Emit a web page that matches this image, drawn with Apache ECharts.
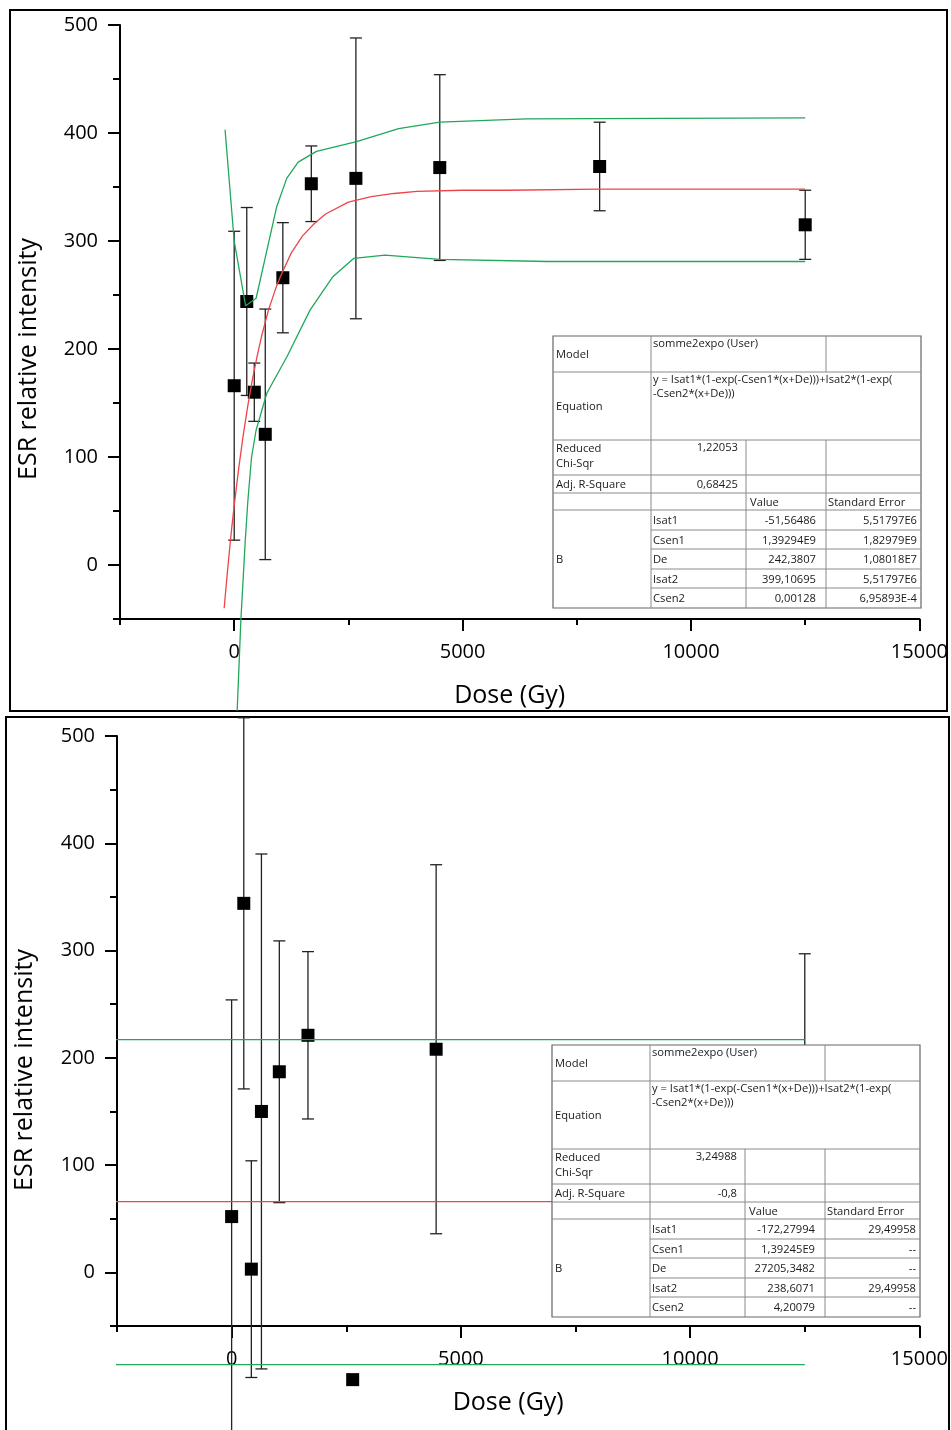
<!DOCTYPE html>
<html>
<head>
<meta charset="utf-8">
<script src="https://cdn.jsdelivr.net/npm/echarts@6/dist/echarts.min.js"></script>
<style>
html,body{margin:0;padding:0;background:#fff;}
#chart{width:951px;height:1430px;}
</style>
</head>
<body>
<div id="chart"></div>
<script>
// ---------- DATA ----------
// Top panel: measured points
const topDose = [0, 275, 440, 680, 1065, 1688, 2664, 4500, 8000, 12500];
const topInt  = [166, 244, 160, 121, 266, 353, 358, 368, 369, 315];
const topErr  = [143, 87, 27, 116, 51, 35, 130, 86, 41, 32];
// Top panel: fit curve (red) and confidence band (green)
const topFitX = [-220,-150,-100,-50,0,100,200,300,400,500,600,750,900,1000,1250,1500,1750,2000,2500,3000,3500,4000,5000,6000,8000,10000,12500];
const topFitY = [-40,-7,15,36,55,90,121,148,172,193,212,236,255,266,289,305,316,325,336,341,344,346,347,347,348,348,348];
const topUpperX = [-200,0,250,480,714,932,1150,1400,1800,2680,3600,4500,6400,12500];
const topUpperY = [403,300,240,247,291,332,358,373,383,392,404,410,413,414];
const topLowerX = [65,146,240,300,380,480,714,1157,1660,2160,2620,3300,4500,6860,12500];
const topLowerY = [-135,-51,21,60,100,125,159,193,236,267,284,287,283,281,281];

// Bottom panel: measured points
const botDose = [0, 265, 430, 650, 1040, 1665, 2640, 4460, 12500];
const botInt  = [52, 344, 3, 150, 187, 221, -100, 208, 200];
const botErr  = [202, 173, 101, 240, 122, 78, 0, 172, 97];
// Bottom panel: fit line and confidence band
const botFitX   = [-2720, 12500];
const botFitY   = [66, 66];
const botUpperY = [217, 217];
const botLowerY = [-86, -86];

// Axis ticks
const xMajor = [0, 5000, 10000, 15000];
const xMinor = [-2500, 2500, 7500, 12500];
const yMajor = [0, 100, 200, 300, 400, 500];
const yMinor = [-50, 50, 150, 250, 350, 450];

// Table texts
const tableRowLabels = ['Model', 'Equation', 'Reduced\nChi-Sqr', 'Adj. R-Square', 'B'];
const modelName = 'somme2expo (User)';
const equationText = 'y = Isat1*(1-exp(-Csen1*(x+De)))+Isat2*(1-exp(\n-Csen2*(x+De)))';
const tableHeader = ['Value', 'Standard Error'];
const paramNames = ['Isat1', 'Csen1', 'De', 'Isat2', 'Csen2'];
const topChiSqr = '1,22053';
const topAdjR2 = '0,68425';
const topParamValues = ['-51,56486', '1,39294E9', '242,3807', '399,10695', '0,00128'];
const topParamErrors = ['5,51797E6', '1,82979E9', '1,08018E7', '5,51797E6', '6,95893E-4'];
const botChiSqr = '3,24988';
const botAdjR2 = '-0,8';
const botParamValues = ['-172,27994', '1,39245E9', '27205,3482', '238,6071', '4,20079'];
const botParamErrors = ['29,49958', '--', '--', '29,49958', '--'];

// ---------- STYLE ----------
const FONT = '"Open Sans", "Noto Sans", sans-serif';
const RED = '#ee4449';
const GREEN = '#1fa85a';

function errRender(params, api) {
  const x = api.value(0), lo = api.value(1), hi = api.value(2);
  if (hi === lo) return null;
  const a = api.coord([x, hi]), b = api.coord([x, lo]);
  const w = 6;
  const st = { stroke: '#222', lineWidth: 1.3 };
  return { type: 'group', children: [
    { type: 'line', shape: { x1: a[0], y1: a[1], x2: b[0], y2: b[1] }, style: st },
    { type: 'line', shape: { x1: a[0] - w, y1: a[1], x2: a[0] + w, y2: a[1] }, style: st },
    { type: 'line', shape: { x1: b[0] - w, y1: b[1], x2: b[0] + w, y2: b[1] }, style: st }
  ]};
}

function majorX(grid, padRight) {
  return {
    type: 'value', gridIndex: grid, position: 'bottom', min: -2500, max: 15000, interval: 2500,
    name: 'Dose (Gy)', nameLocation: 'middle', nameGap: 64,
    nameTextStyle: { fontFamily: FONT, fontSize: 25, color: '#000', padding: [0, padRight, 0, 0] },
    axisLine: { show: true, onZero: false, lineStyle: { color: '#000', width: 2 } },
    axisTick: { show: true, customValues: xMajor, length: 12, lineStyle: { color: '#000', width: 2 } },
    axisLabel: { show: true, customValues: xMajor, margin: 23, fontFamily: FONT, fontSize: 20, color: '#000',
      formatter: v => String(v) },
    splitLine: { show: false }
  };
}
function minorX(grid) {
  return {
    type: 'value', gridIndex: grid, position: 'bottom', min: -2500, max: 15000, interval: 2500,
    axisLine: { show: false, onZero: false },
    axisTick: { show: true, customValues: xMinor, length: 6, lineStyle: { color: '#000', width: 2 } },
    axisLabel: { show: false }, splitLine: { show: false }
  };
}
function majorY(grid, padRight, gap) {
  return {
    type: 'value', gridIndex: grid, position: 'left', min: -50, max: 500, interval: 50,
    name: 'ESR relative intensity', nameLocation: 'middle', nameGap: gap, nameRotate: 90,
    nameTextStyle: { fontFamily: FONT, fontSize: 25, color: '#000', padding: [0, padRight, 0, 0] },
    axisLine: { show: true, onZero: false, lineStyle: { color: '#000', width: 2 } },
    axisTick: { show: true, customValues: yMajor, length: 12, lineStyle: { color: '#000', width: 2 } },
    axisLabel: { show: true, customValues: yMajor, margin: 22, fontFamily: FONT, fontSize: 20, color: '#000',
      formatter: v => String(v) },
    splitLine: { show: false }
  };
}
function minorY(grid) {
  return {
    type: 'value', gridIndex: grid, position: 'left', min: -50, max: 500, interval: 50,
    axisLine: { show: false, onZero: false },
    axisTick: { show: true, customValues: yMinor, length: 7, lineStyle: { color: '#000', width: 2 } },
    axisLabel: { show: false }, splitLine: { show: false }
  };
}

function pairs(xs, ys) { return xs.map((x, i) => [x, ys[i]]); }

function panelSeries(xi, yi, dose, inten, err, curves) {
  const s = [];
  s.push({
    type: 'custom', xAxisIndex: xi, yAxisIndex: yi, clip: false, z: 2,
    renderItem: errRender, encode: { x: 0, y: [1, 2] },
    data: dose.map((d, i) => [d, inten[i] - err[i], inten[i] + err[i]])
  });
  s.push({
    type: 'scatter', xAxisIndex: xi, yAxisIndex: yi, clip: false, z: 3,
    symbol: 'rect', symbolSize: 13, itemStyle: { color: '#000', opacity: 1 },
    data: pairs(dose, inten)
  });
  curves.forEach(c => s.push({
    type: 'line', xAxisIndex: xi, yAxisIndex: yi, clip: false, z: 4,
    showSymbol: false, symbol: 'none', smooth: false,
    lineStyle: { color: c.color, width: 1.3 }, data: c.data
  }));
  return s;
}

// ---------- TABLE ----------
const TFONT = '11.2px "Open Sans", "Noto Sans", sans-serif';
const rowOff = [0, 36, 104, 139, 157, 174, 194, 213, 233, 252, 272];
const colOff = [0, 98, 193, 273, 368];
function buildTable(x0, y0, chi, adj, vals, errs) {
  const r = rowOff.map(v => y0 + v);
  const c = colOff.map(v => x0 + v);
  const els = [];
  const Z = 100;
  els.push({ type: 'rect', z: Z, shape: { x: c[0], y: r[0], width: c[4] - c[0], height: r[10] - r[0] },
    style: { fill: '#fff', stroke: '#666', lineWidth: 1.2 } });
  const ln = (x1, y1, x2, y2) => els.push({ type: 'line', z: Z + 1, shape: { x1, y1, x2, y2 },
    style: { stroke: '#8a8a8a', lineWidth: 1 } });
  [1, 2, 3, 4, 5].forEach(i => ln(c[0], r[i], c[4], r[i]));
  [6, 7, 8, 9].forEach(i => ln(c[1], r[i], c[4], r[i]));
  ln(c[1], r[0], c[1], r[10]);
  ln(c[2], r[2], c[2], r[10]);
  ln(c[3], r[0], c[3], r[1]);
  ln(c[3], r[2], c[3], r[10]);
  const tx = (text, x, y, align, va, lh) => els.push({ type: 'text', z: Z + 2,
    style: { text, x, y, font: TFONT, fill: '#1a1a1a', align: align || 'left', verticalAlign: va || 'middle', lineHeight: lh || 14 } });
  tx(tableRowLabels[0], c[0] + 3, (r[0] + r[1]) / 2 + 1);
  tx(modelName, c[1] + 2, r[0] + 1, 'left', 'top');
  tx(tableRowLabels[1], c[0] + 3, (r[1] + r[2]) / 2 + 1);
  tx(equationText, c[1] + 2, r[1] + 1, 'left', 'top', 14);
  tx(tableRowLabels[2], c[0] + 3, r[2] + 1, 'left', 'top', 15);
  tx(chi, c[2] - 8, r[2] + 1, 'right', 'top');
  tx(tableRowLabels[3], c[0] + 3, (r[3] + r[4]) / 2 + 1);
  tx(adj, c[2] - 8, (r[3] + r[4]) / 2 + 1, 'right');
  tx(tableHeader[0], c[2] + 4, (r[4] + r[5]) / 2 + 1);
  tx(tableHeader[1], c[3] + 2, (r[4] + r[5]) / 2 + 1);
  tx(tableRowLabels[4], c[0] + 3, (r[5] + r[10]) / 2 + 1);
  for (let i = 0; i < 5; i++) {
    const y = (r[5 + i] + r[6 + i]) / 2 + 1;
    tx(paramNames[i], c[1] + 2, y);
    tx(vals[i], c[3] - 10, y, 'right');
    tx(errs[i], c[4] - 4, y, 'right');
  }
  return els;
}

const graphics = [
  { type: 'rect', z: 0, shape: { x: 10, y: 10, width: 937, height: 701 }, style: { fill: 'none', stroke: '#000', lineWidth: 2 } },
  { type: 'rect', z: 0, shape: { x: 6, y: 717, width: 943, height: 730 }, style: { fill: 'none', stroke: '#000', lineWidth: 2 } }
].concat(
  buildTable(553, 336, topChiSqr, topAdjR2, topParamValues, topParamErrors),
  buildTable(552, 1045, botChiSqr, botAdjR2, botParamValues, botParamErrors)
);

const option = {
  animation: false,
  backgroundColor: '#fff',
  grid: [
    { left: 120, top: 25, width: 801, height: 594, containLabel: false },
    { left: 117, top: 736, width: 804, height: 590, containLabel: false }
  ],
  xAxis: [majorX(0, 20), minorX(0), majorX(1, 20), minorX(1)],
  yAxis: [majorY(0, 74, 79), minorY(0), majorY(1, 78, 80), minorY(1)],
  series: [].concat(
    panelSeries(0, 0, topDose, topInt, topErr, [
      { color: RED, data: pairs(topFitX, topFitY) },
      { color: GREEN, data: pairs(topUpperX, topUpperY) },
      { color: GREEN, data: pairs(topLowerX, topLowerY) }
    ]),
    panelSeries(2, 2, botDose, botInt, botErr, [
      { color: RED, data: pairs(botFitX, botFitY) },
      { color: GREEN, data: pairs(botFitX, botUpperY) },
      { color: GREEN, data: pairs(botFitX, botLowerY) }
    ])
  ),
  graphic: { elements: graphics }
};

const chart = echarts.init(document.getElementById('chart'), null, { renderer: 'canvas' });
chart.setOption(option);
</script>
</body>
</html>
